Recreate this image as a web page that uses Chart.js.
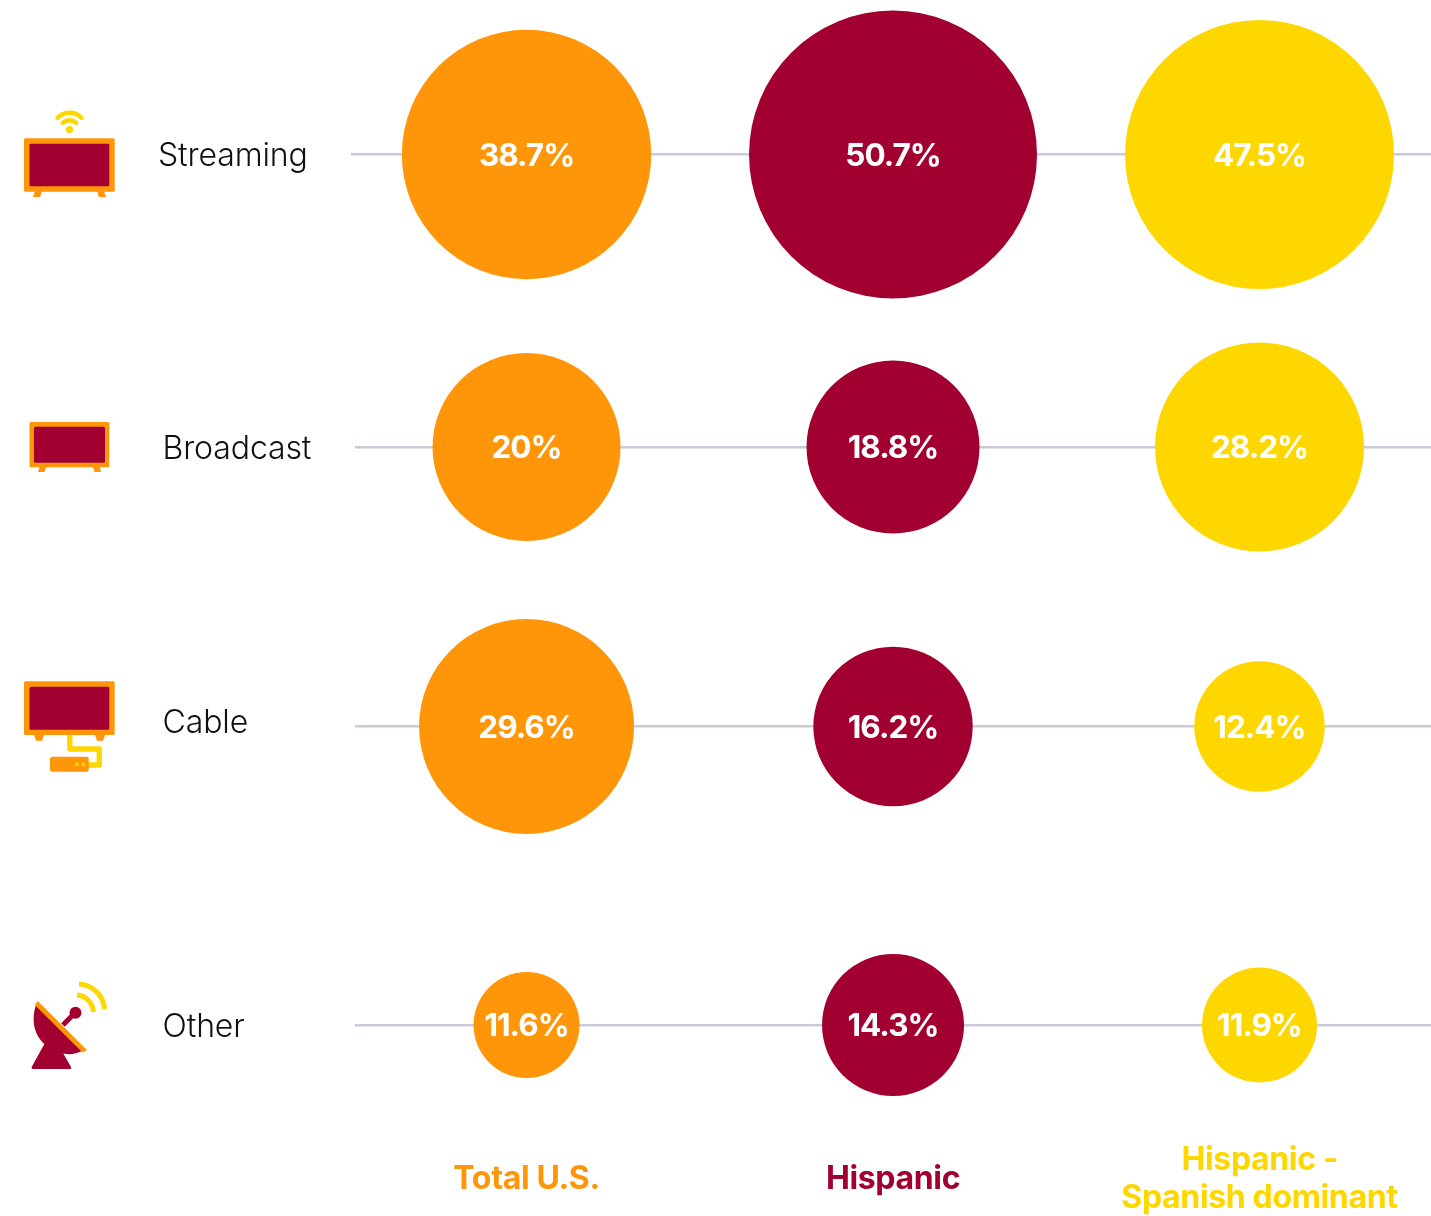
<!DOCTYPE html>
<html><head><meta charset="utf-8">
<style>html,body{margin:0;padding:0;background:#fff;overflow:hidden}
#wrap{position:relative;width:1431px;height:1216px}
canvas{position:absolute;left:0;top:0}
svg{position:absolute;left:0;top:0;pointer-events:none}</style>
<script src="https://cdn.jsdelivr.net/npm/chart.js@4/dist/chart.umd.min.js"></script>
</head><body>
<div id="wrap"><canvas id="c" width="1431" height="1216"></canvas>
<svg width="1431" height="1216" viewBox="0 0 1431 1216">
<g id="streaming">
<circle cx="69.5" cy="129.5" r="3.6" fill="#FFD700"/>
<path d="M62.8 123 A9.4 9.4 0 0 1 76.2 123" fill="none" stroke="#FFD700" stroke-width="4.4" stroke-linecap="round"/>
<path d="M57.5 118 A16.5 16.5 0 0 1 81.5 118" fill="none" stroke="#FFD700" stroke-width="4.4" stroke-linecap="round"/>
<path d="M35 191 L33 197 H40 L42 191 Z M97 191 L99 197 H106 L104 191 Z" fill="#FF9609"/>
<rect x="24" y="138.3" width="90.7" height="53.4" rx="1.5" fill="#FF9609"/>
<rect x="29.5" y="143.7" width="79.8" height="42.6" rx="1.5" fill="#A10031"/>
</g>
<g id="broadcast">
<path d="M39.5 467 L38 472 H44.5 L46 467 Z M93 467 L94.5 472 H101 L99.5 467 Z" fill="#FF9609"/>
<rect x="29.5" y="422" width="79.8" height="45.3" rx="1.5" fill="#FF9609"/>
<rect x="34" y="426.7" width="71" height="36" rx="1.5" fill="#A10031"/>
</g>
<g id="cable">
<path d="M69.8 735 V749 H99.3 V765 H88" fill="none" stroke="#FFD700" stroke-width="5.4" stroke-linejoin="round"/>
<path d="M34 735 L36 740.7 H42 L44 735 Z M95 735 L97 740.7 H103 L105 735 Z" fill="#FF9609"/>
<rect x="24" y="681.3" width="90.7" height="53.7" rx="1.5" fill="#FF9609"/>
<rect x="29.5" y="686.7" width="79.8" height="43" rx="1.5" fill="#A10031"/>
<rect x="50" y="756.7" width="38.7" height="15" rx="2.5" fill="#FF9609"/>
<circle cx="77" cy="764.3" r="2" fill="#FFD700"/><circle cx="83.3" cy="764.3" r="2" fill="#FFD700"/>
</g>
<g id="other">
<path d="M36 1005 C31 1020 34 1035 44.3 1044 L31.7 1067 Q31 1069 33.5 1069 H69.5 Q72 1069 71 1067 L63.3 1053.5 C70 1055 76 1054 82 1051 Z" fill="#A10031"/>
<path d="M63 1025 L75 1012.7" stroke="#A10031" stroke-width="5" fill="none"/>
<circle cx="75.5" cy="1012.7" r="6" fill="#A10031"/>
<path d="M37.7 1001 L34.8 1005 L82.5 1052.5 L87 1050 Z" fill="#FF9609"/>
<path d="M79 984 A27 27 0 0 1 104.5 1009" fill="none" stroke="#FFD700" stroke-width="5"/>
<path d="M77 995 A18 18 0 0 1 93.5 1012" fill="none" stroke="#FFD700" stroke-width="5"/>
</g>
</svg></div>
<script>
// ---- data ----
const categories = ['Streaming', 'Broadcast', 'Cable', 'Other'];
const columnLabels = ['Total U.S.', 'Hispanic', ['Hispanic -', 'Spanish dominant']];
const seriesNames = ['Total U.S.', 'Hispanic', 'Hispanic - Spanish dominant'];
const totalUS = [38.7, 20, 29.6, 11.6];
const hispanic = [50.7, 18.8, 16.2, 14.3];
const spanishDominant = [47.5, 28.2, 12.4, 11.9];
// ---- bubble-size scale of the original (value -> radius) ----
const sizeDomain = [11.6, 11.9, 12.4, 14.3, 16.2, 18.8, 20, 28.2, 29.6, 38.7, 47.5, 50.7];
const sizeRange  = [53, 57.5, 65.2, 71, 79.7, 86.5, 94, 104.5, 107.5, 124.7, 134.5, 144];
// ---- styling / layout ----
const colors = ['#FF9609', '#A10031', '#FFD700'];
const rowWeights = [154.5, 292.5, 279.5, 298.5, 105];
const rowLabelShift = [[-1, 2], [3.5, 2], [3.5, -3], [3.5, 2]];
const rowLineInset = [0, 4, 4, 4];
const FONT = 'Inter';

function radiusFor(v) {
  const i = sizeDomain.indexOf(v);
  return sizeRange[i];
}

class RowScale extends Chart.CategoryScale {
  static id = 'rows';
  static defaults = Chart.CategoryScale.defaults;
  getPixelForValue(value) {
    const idx = typeof value === 'number' ? value : this.getLabels().indexOf(value);
    const total = rowWeights.reduce((a, b) => a + b, 0);
    let cum = 0;
    for (let i = 0; i <= idx; i++) cum += rowWeights[i];
    return this.top + cum * (this.bottom - this.top) / total;
  }
  _computeLabelItems(area) {
    const items = super._computeLabelItems(area);
    items.forEach((it, i) => {
      it.options.translation[0] += rowLabelShift[i][0];
      it.options.translation[1] += rowLabelShift[i][1];
    });
    return items;
  }
  _computeGridLineItems(area) {
    const items = super._computeGridLineItems(area);
    items.forEach((it, i) => { it.x1 += rowLineInset[i]; });
    return items;
  }
  _computeLabelArea() { return undefined; }
  drawLabels(area) {
    const prev = this.ctx.letterSpacing;
    this.ctx.letterSpacing = '-0.1px';
    super.drawLabels(area);
    this.ctx.letterSpacing = prev;
  }
}
Chart.register(RowScale);

const tracking = {
  id: 'tracking',
  beforeDraw(chart) { chart.ctx.letterSpacing = '-0.35px'; }
};

const valueLabels = {
  id: 'valueLabels',
  afterDatasetsDraw(chart) {
    const ctx = chart.ctx;
    ctx.save();
    ctx.font = '700 31.5px ' + FONT;
    ctx.letterSpacing = '-1px';
    ctx.fillStyle = '#ffffff';
    ctx.textAlign = 'center';
    ctx.textBaseline = 'middle';
    chart.data.datasets.forEach((ds, d) => {
      chart.getDatasetMeta(d).data.forEach((el, i) => {
        ctx.fillText(ds.data[i].v + '%', el.x, el.y + 2);
      });
    });
    ctx.restore();
  }
};

const makeData = (vals, col) => vals.map((v, i) => ({ x: col, y: categories[i], r: radiusFor(v), v }));

new Chart(document.getElementById('c'), {
  type: 'bubble',
  data: {
    labels: categories,
    datasets: [totalUS, hispanic, spanishDominant].map((vals, k) => ({
      label: seriesNames[k],
      data: makeData(vals, k),
      backgroundColor: colors[k],
      hoverBackgroundColor: colors[k],
      borderWidth: 0,
      hoverBorderWidth: 0,
      clip: false
    }))
  },
  options: {
    responsive: false,
    animation: false,
    events: [],
    layout: { autoPadding: false, padding: { left: 159, right: 0, top: 0, bottom: 0 } },
    plugins: { legend: { display: false }, tooltip: { enabled: false } },
    scales: {
      x: {
        type: 'linear',
        position: 'bottom',
        min: -0.479,
        max: 2.468,
        afterFit(s) { s.height = 86; s.paddingLeft = 0; s.paddingRight = 0; },
        afterBuildTicks(s) { s.ticks = [{ value: 0 }, { value: 1 }, { value: 2 }]; },
        grid: { display: false, drawTicks: false },
        border: { display: false },
        ticks: {
          callback: v => columnLabels[v],
          color: c => colors[c.index],
          font: { family: FONT, size: 32, weight: 700, lineHeight: 1.19 },
          maxRotation: 0, minRotation: 0, autoSkip: false, padding: 30,
          crossAlign: 'center'
        }
      },
      y: {
        type: 'rows',
        labels: categories,
        position: 'left',
        afterFit(s) { s.width = 192; s.paddingTop = 0; s.paddingBottom = 0; },
        grid: { color: '#C9CBDA', lineWidth: 2.5, drawTicks: false },
        border: { display: false },
        ticks: {
          color: '#111111',
          font: { family: FONT, size: 32, weight: 300 },
          crossAlign: 'far', padding: 0, autoSkip: false
        }
      }
    }
  },
  plugins: [tracking, valueLabels]
});
</script>
</body></html>
